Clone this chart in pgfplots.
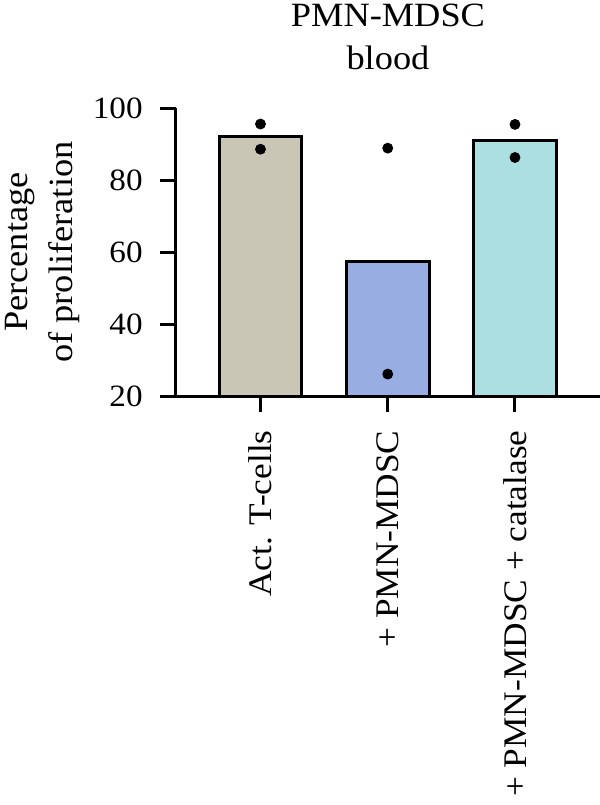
\documentclass[border=0pt]{standalone}
\usepackage{fontspec}
\setmainfont{Liberation Serif}[FakeStretch=1.07]
\usepackage{pgfplots}
\pgfplotsset{compat=1.18}

\definecolor{barA}{HTML}{C9C6B6}
\definecolor{barB}{HTML}{98AEE2}
\definecolor{barC}{HTML}{ABDFE2}

\begin{document}
\begin{tikzpicture}
\begin{axis}[
  name=ax,
  scale only axis,
  width=212pt, height=143.9pt,
  xmin=-0.664, xmax=2.668,
  ymin=20, ymax=100,
  ytick={20,40,60,80,100},
  xtick={0,1,2},
  xticklabels={Act. T-cells, + PMN-MDSC, + PMN-MDSC + catalase},
  axis lines*=left,
  axis line style={line width=1.5pt, black},
  every tick/.style={line width=1.5pt, black},
  tick align=outside,
  major tick length=8pt,
  /pgf/number format/assume math mode=true,
  y tick label style={font=\fontsize{15.5}{18}\selectfont, inner sep=0pt},
  x tick label style={font=\fontsize{16.5}{20}\selectfont, rotate=90, anchor=east, inner sep=0pt},
  xticklabel shift=9pt,
  yticklabel shift=8.5pt,
  ylabel={Percentage\\of proliferation},
  ylabel style={align=center, font=\fontsize{17}{22.5}\selectfont,
    at={(axis description cs:-0.226,0.5)}, anchor=south, inner sep=0pt},
  title={PMN-MDSC\\blood},
  title style={align=center, font=\fontsize{17}{21.5}\selectfont,
    at={(axis description cs:0.5,1)}, anchor=south, inner sep=0pt, yshift=13pt},
]
% group means
\addplot[ybar, bar width=0.652, bar shift=0pt, fill=barA, draw=black, line width=1.5pt]
  coordinates {(0,92.1)};
\addplot[ybar, bar width=0.652, bar shift=0pt, fill=barB, draw=black, line width=1.5pt]
  coordinates {(1,57.5)};
\addplot[ybar, bar width=0.652, bar shift=0pt, fill=barC, draw=black, line width=1.5pt]
  coordinates {(2,90.9)};
% individual replicates
\addplot[only marks, mark=*, mark size=2.5pt, black]
  coordinates {(0,95.6) (0,88.6) (1,88.9) (1,26.1) (2,95.5) (2,86.3)};
\end{axis}
% page frame around the figure
\pgfresetboundingbox
\path (ax.south west) ++(-88pt,-204.5pt) rectangle ++(300pt,402.5pt);
\end{tikzpicture}
\end{document}
